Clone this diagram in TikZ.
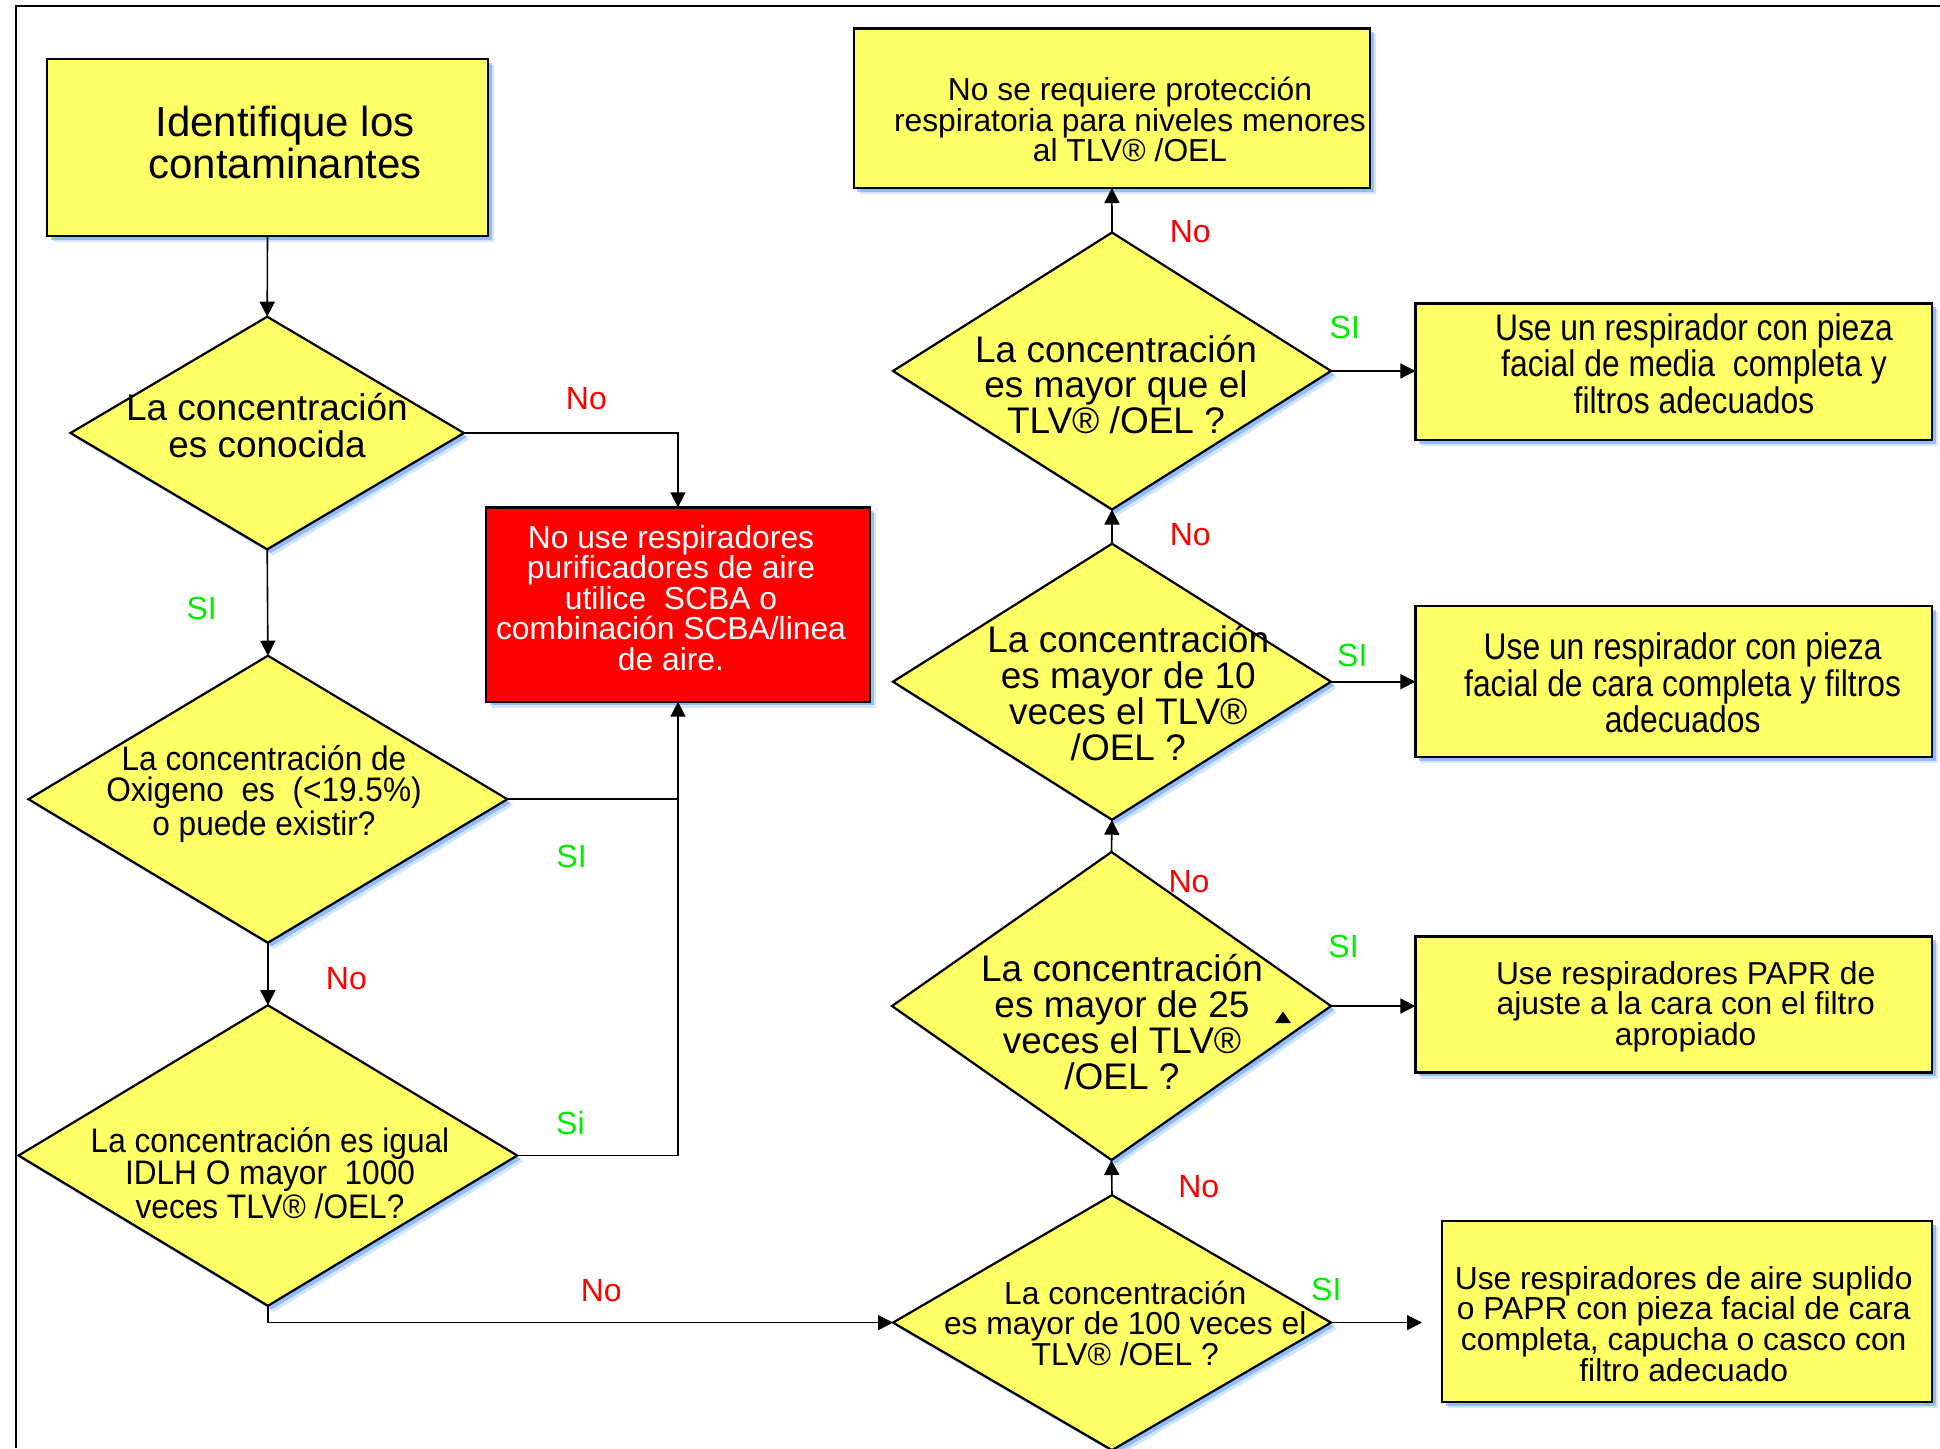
\documentclass[tikz,border=0pt]{standalone}
\usepackage{fontspec}
\setmainfont{Liberation Sans}
\newfontfamily\condA[FakeStretch=0.86]{Liberation Sans}
\newfontfamily\condB[FakeStretch=0.93]{Liberation Sans}
\usetikzlibrary{shapes.geometric,arrows.meta,shadows}
\definecolor{boxyellow}{RGB}{255,255,102}
\definecolor{glowblue}{RGB}{80,150,255}
\definecolor{lblred}{RGB}{255,0,0}
\definecolor{lblgreen}{RGB}{0,235,0}
\definecolor{boxred}{RGB}{255,0,0}
\tikzset{
 glow/.style={drop shadow={shadow xshift=3pt,shadow yshift=-3pt,fill=glowblue,opacity=0.25},
              drop shadow={shadow xshift=1.8pt,shadow yshift=-1.8pt,fill=glowblue,opacity=0.5}},
 rbox/.style={draw=black, line width=1.2pt, fill=boxyellow, rectangle, inner sep=0pt, outer sep=0pt, glow},
 dbox/.style={draw=black, line width=1.1pt, fill=boxyellow, diamond, inner sep=0pt, outer sep=0pt, glow},
 txt/.style={align=center, inner sep=0pt, text=black},
 conn/.style={line width=0.8pt, draw=black},
 arr/.style={conn, -{Triangle[length=7.5pt,width=7.5pt]}},
 nolbl/.style={text=lblred, font=\fontsize{16}{16}\selectfont, inner sep=0pt},
 silbl/.style={text=lblgreen, font=\fontsize{16}{16}\selectfont, inner sep=0pt},
}
\begin{document}
\begin{tikzpicture}[x=0.5pt,y=-0.5pt]
\useasboundingbox (0,0) rectangle (1940,1448);
\draw[line width=0.8pt] (16,1448) -- (16,6) -- (1940,6);

% left column
\node[rbox, minimum width=220.5pt, minimum height=88.5pt] (b1) at (267.5,147.5) {};
\node[txt, font=\fontsize{21}{21}\selectfont] (tb1) at (285,142.5) {Identifique los\\contaminantes};

\node[dbox, minimum width=196.7pt, minimum height=116.3pt] (d1) at (267.2,433) {};
\node[txt, font=\fontsize{18.5}{18.5}\selectfont] (td1) at (267,425.6) {La concentración\\es conocida};

\node[dbox, minimum width=239.4pt, minimum height=143.5pt] (d2) at (267.9,799.2) {};
\node[txt, font={\condB\fontsize{17}{15.5}\selectfont}] (td2) at (264,794) {La concentración de\\Oxigeno\ \ es\ \ (<19.5\%)\\o puede existir?};

\node[dbox, minimum width=249.3pt, minimum height=150.3pt] (d3) at (267.9,1155.5) {};
\node[txt, font={\condB\fontsize{17}{15.3}\selectfont}] (td3) at (270,1173) {La concentración es igual\\IDLH O mayor\ \ 1000\\veces TLV® /OEL?};

\node[rbox, fill=boxred, minimum width=192pt, minimum height=97.2pt] (r) at (678,604.5) {};
\node[txt, text=white, font=\fontsize{15.9}{15.3}\selectfont] (tr) at (671,598) {No use respiradores\\purificadores de aire\\utilice\ \ SCBA o\\combinación SCBA/linea\\de aire.};

% right column
\node[rbox, minimum width=258.2pt, minimum height=79.8pt] (t) at (1111.9,108.2) {};
\node[txt, font=\fontsize{15.9}{15.2}\selectfont] (tt) at (1130,119.6) {No se requiere protección\\respiratoria para niveles menores\\al TLV® /OEL};

\node[dbox, minimum width=219pt, minimum height=138.5pt] (d4) at (1112,371) {};
\node[txt, font=\fontsize{18.5}{17.6}\selectfont] (td4) at (1116,384.4) {La concentración\\es mayor que el\\TLV® /OEL ?};

\node[dbox, minimum width=219pt, minimum height=138pt] (d5) at (1112,681.7) {};
\node[txt, font=\fontsize{18.5}{18}\selectfont] (td5) at (1128.3,693.4) {La concentración\\es mayor de 10\\veces el TLV®\\/OEL ?};

\node[dbox, minimum width=219.5pt, minimum height=154pt] (d6) at (1111.5,1006) {};
\node[txt, font=\fontsize{18.5}{18}\selectfont] (td6) at (1122,1021.6) {La concentración\\es mayor de 25\\veces el TLV®\\/OEL ?};
\fill (1275,1023) -- (1283,1011.5) -- (1291,1023) -- cycle;

\node[dbox, minimum width=219pt, minimum height=127.5pt] (d7) at (1112,1322.6) {};
\node[txt, font=\fontsize{15.9}{15.2}\selectfont] (td7) at (1125.2,1323.4) {La concentración\\es mayor de 100 veces el\\TLV® /OEL ?};

\node[rbox, minimum width=258.3pt, minimum height=68.3pt] (e4) at (1673.7,371.7) {};
\node[txt, font={\condA\fontsize{18.5}{17}\selectfont}] (te4) at (1694,363.3) {Use un respirador con pieza\\facial de media\ \ completa y\\filtros adecuados};

\node[rbox, minimum width=258.3pt, minimum height=75.5pt] (e5) at (1673.7,681.7) {};
\node[txt, font={\condA\fontsize{18.5}{17}\selectfont}] (te5) at (1682.6,683) {Use un respirador con pieza\\facial de cara completa y filtros\\adecuados};

\node[rbox, minimum width=258.3pt, minimum height=68pt] (e6) at (1673.7,1004.6) {};
\node[txt, font=\fontsize{15.9}{15.2}\selectfont] (te6) at (1685.7,1006.7) {Use respiradores PAPR de\\ajuste a la cara con el filtro\\apropiado};

\node[rbox, minimum width=245pt, minimum height=90.5pt] (e7) at (1687,1311.5) {};
\node[txt, font=\fontsize{15.9}{15.3}\selectfont] (te7) at (1683.7,1323.8) {Use respiradores de aire suplido\\o PAPR con pieza facial de cara\\completa, capucha o casco con\\filtro adecuado};
\coordinate (e7in) at (1422,1322.6);

% connectors
\draw[arr] (b1.south) -- (d1.north);
\draw[arr] (d1.south) -- (d2.north);
\draw[arr] (d2.south) -- (d3.north);
\draw[arr] (d1.east) -| (r.north);
\draw[arr] (d2.east) -| (r.south);
\draw[conn] (d3.east) -| (r.south |- d2.east);
\draw[arr] (d3.south) |- (d7.west);
\draw[arr] (d4.north) -- (t.south);
\draw[arr] (d5.north) -- (d4.south);
\draw[arr] (d6.north) -- (d5.south);
\draw[arr] (d7.north) -- (d6.south);
\draw[arr] (d4.east) -- (e4.west |- d4.east);
\draw[arr] (d5.east) -- (e5.west |- d5.east);
\draw[arr] (d6.east) -- (e6.west |- d6.east);
\draw[arr] (d7.east) -- (e7in);

% labels
\node[nolbl] (l1) at (586.4,398.4) {No};
\node[silbl] (l2) at (201.7,608.7) {SI};
\node[silbl] (l3) at (571.6,856.1) {SI};
\node[nolbl] (l4) at (346.4,978.6) {No};
\node[silbl] (l5) at (570.4,1123.4) {Si};
\node[nolbl] (l6) at (601.3,1290.4) {No};
\node[nolbl] (l7) at (1190.2,231.4) {No};
\node[silbl] (l8) at (1344.8,327.9) {SI};
\node[nolbl] (l9) at (1190.2,534.5) {No};
\node[silbl] (l10) at (1352.3,655.7) {SI};
\node[nolbl] (l11) at (1189,882.1) {No};
\node[silbl] (l12) at (1343.6,946.5) {SI};
\node[nolbl] (l13) at (1198.8,1186.5) {No};
\node[silbl] (l14) at (1326.3,1289.2) {SI};
\end{tikzpicture}
\end{document}
